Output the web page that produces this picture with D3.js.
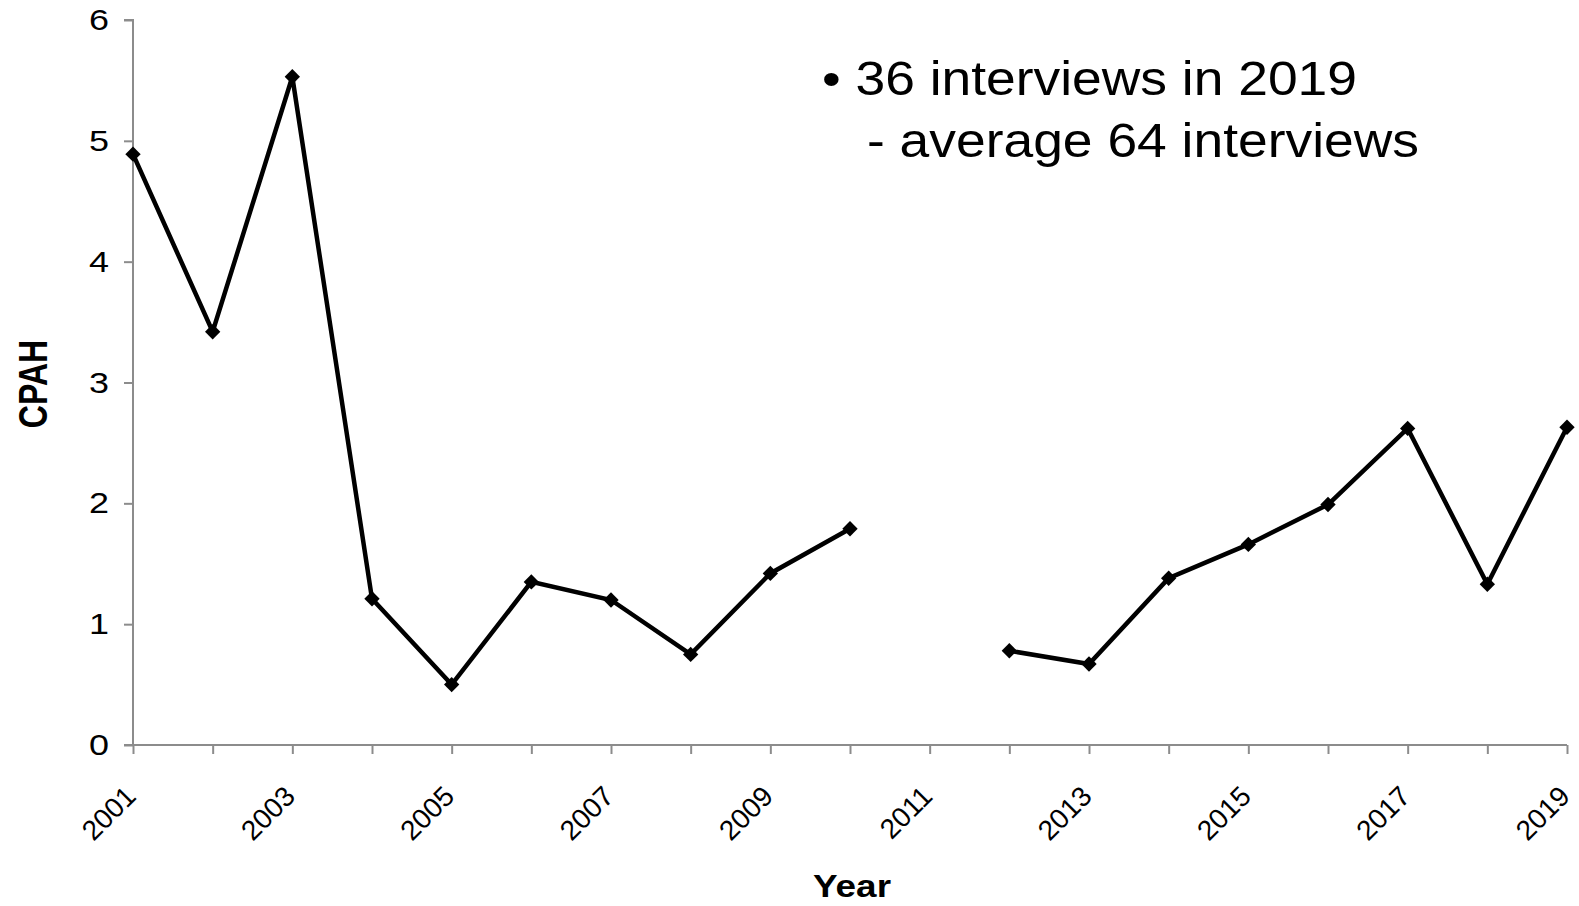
<!DOCTYPE html>
<html>
<head>
<meta charset="utf-8">
<script src="https://cdn.jsdelivr.net/npm/d3@7"></script>
<style>
  body { margin: 0; background: #fff; }
  svg text { font-family: "Liberation Sans", Arial, sans-serif; fill: #000; }
</style>
</head>
<body>
<div id="chart"></div>
<script>
var years = [2001, 2002, 2003, 2004, 2005, 2006, 2007, 2008, 2009, 2010,
             2011, 2012, 2013, 2014, 2015, 2016, 2017, 2018, 2019];
var cpah = [4.89, 3.42, 5.53, 1.21, 0.50, 1.35, 1.20, 0.75, 1.42, 1.79,
            null, 0.78, 0.67, 1.38, 1.66, 1.99, 2.62, 1.33, 2.63];
var yTicks = [0, 1, 2, 3, 4, 5, 6];
var xLabelYears = [2001, 2003, 2005, 2007, 2009, 2011, 2013, 2015, 2017, 2019];
var noteLines = ["\u2022 36 interviews in 2019", "- average 64 interviews"];

(function () {
  'use strict'

  var W = 1579, H = 906;
  var margin = {top: 20, right: 12, bottom: 161, left: 133};
  var width = W - margin.left - margin.right,
      height = H - margin.top - margin.bottom;

  var svg = d3.select("#chart").append("svg")
      .attr("width", W)
      .attr("height", H);
  var g = svg.append("g")
      .attr("transform", "translate(" + margin.left + "," + margin.top + ")");

  var x = d3.scaleLinear().domain([2001, 2019]).range([0, width]);
  var y = d3.scaleLinear().domain([0, 6]).range([height, 0]);

  // y axis
  var yAxis = g.append("g")
      .attr("class", "yAxis")
      .call(d3.axisLeft(y).tickValues(yTicks).tickSize(9).tickPadding(15)
        .tickFormat(d3.format("d")));
  yAxis.selectAll("path, line").attr("stroke", "#8c8c8c").attr("stroke-width", 2);
  yAxis.select(".domain").attr("d", "M0," + height + "V0H-9");
  yAxis.selectAll("text")
      .attr("font-size", 30)
      .attr("textLength", 20)
      .attr("lengthAdjust", "spacingAndGlyphs");

  // x axis
  var xAxis = g.append("g")
      .attr("class", "xAxis")
      .attr("transform", "translate(0," + height + ")")
      .call(d3.axisBottom(x).tickValues(years).tickSize(9)
        .tickFormat(function(d){ return xLabelYears.indexOf(d) >= 0 ? d : ""; }));
  xAxis.selectAll("path, line").attr("stroke", "#8c8c8c").attr("stroke-width", 2);
  xAxis.select(".domain").attr("d", "M-9,0H" + width);
  xAxis.selectAll("text")
      .attr("font-size", 28)
      .attr("text-anchor", "end")
      .attr("dy", "0.35em")
      .attr("y", 0).attr("x", 0)
      .attr("transform", "translate(-3,46) rotate(-45)");

  // line with gap
  var pts = years.map(function(d, i){ return {year: d, v: cpah[i]}; });
  var line = d3.line()
      .defined(function(d){ return d.v != null; })
      .x(function(d){ return x(d.year); })
      .y(function(d){ return y(d.v); });

  g.append("path")
      .datum(pts)
      .attr("fill", "none")
      .attr("stroke", "#000")
      .attr("stroke-width", 4.5)
      .attr("stroke-linejoin", "miter")
      .attr("d", line);

  g.selectAll(".pt")
      .data(pts.filter(function(d){ return d.v != null; }))
      .enter().append("path")
      .attr("class", "pt")
      .attr("d", d3.symbol().type(d3.symbolDiamond2).size(150))
      .attr("fill", "#000")
      .attr("transform", function(d){ return "translate(" + x(d.year) + "," + y(d.v) + ")"; });

  // axis titles
  svg.append("text")
      .attr("x", 852)
      .attr("y", 897)
      .attr("text-anchor", "middle")
      .attr("font-size", 31)
      .attr("font-weight", "bold")
      .attr("textLength", 78)
      .attr("lengthAdjust", "spacingAndGlyphs")
      .text("Year");

  svg.append("text")
      .attr("transform", "translate(47,384) scale(1.25,1) rotate(-90)")
      .attr("text-anchor", "middle")
      .attr("font-size", 32)
      .attr("font-weight", "bold")
      .text("CPAH");

  // note
  svg.append("text")
      .attr("x", 822).attr("y", 95)
      .attr("font-size", 49)
      .attr("textLength", 535)
      .attr("lengthAdjust", "spacingAndGlyphs")
      .text(noteLines[0]);
  svg.append("text")
      .attr("x", 867).attr("y", 157)
      .attr("font-size", 49)
      .attr("textLength", 552)
      .attr("lengthAdjust", "spacingAndGlyphs")
      .text(noteLines[1]);
})()
</script>
</body>
</html>
